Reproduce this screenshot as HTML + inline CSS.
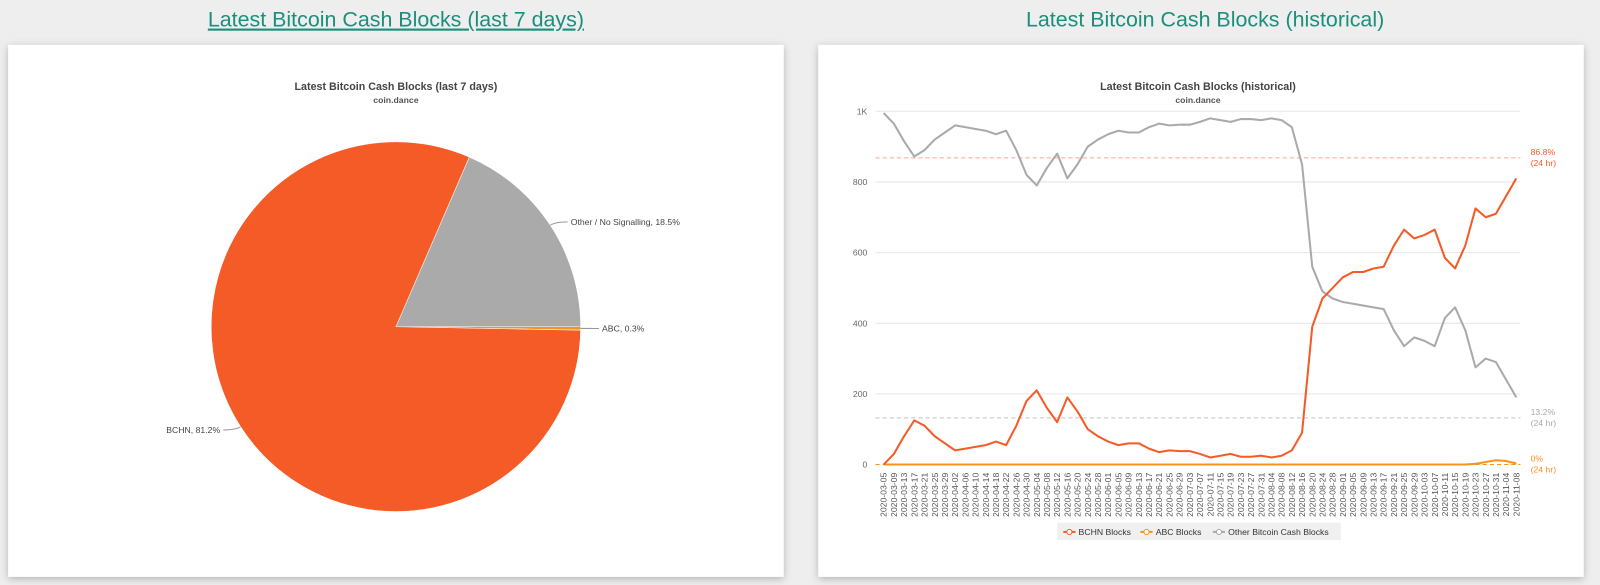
<!DOCTYPE html>
<html><head><meta charset="utf-8"><style>
body{margin:0;background:#eeeeee;font-family:"Liberation Sans",sans-serif;}
</style></head><body>
<svg id="s" width="1600" height="585" viewBox="0 0 1568 573" preserveAspectRatio="none" xmlns="http://www.w3.org/2000/svg" style="display:block">
<defs><filter id="sh" x="-5%" y="-5%" width="110%" height="110%"><feDropShadow dx="0" dy="2" stdDeviation="4" flood-color="#000" flood-opacity="0.25"/></filter></defs>
<rect width="1568" height="573" fill="#eeeeee"/>
<text x="388" y="26" text-anchor="middle" font-size="21" fill="#1b8f7d" text-decoration="underline">Latest Bitcoin Cash Blocks (last 7 days)</text>
<text x="1181" y="26" text-anchor="middle" font-size="21" fill="#1b8f7d">Latest Bitcoin Cash Blocks (historical)</text>
<rect x="8" y="44" width="760" height="521" fill="#fff" filter="url(#sh)"/>
<rect x="802" y="44" width="750" height="521" fill="#fff" filter="url(#sh)"/>
<text x="388" y="88" text-anchor="middle" font-size="10.5" font-weight="bold" fill="#444">Latest Bitcoin Cash Blocks (last 7 days)</text>
<text x="388" y="101" text-anchor="middle" font-size="8.5" font-weight="bold" fill="#555">coin.dance</text>
<text x="1174" y="88" text-anchor="middle" font-size="10.5" font-weight="bold" fill="#444">Latest Bitcoin Cash Blocks (historical)</text>
<text x="1174" y="101" text-anchor="middle" font-size="8.5" font-weight="bold" fill="#555">coin.dance</text>
<g id="pie"></g>
<g id="line"></g>
</svg>
<script>
const NS="http://www.w3.org/2000/svg";
function mk(t,a,p){const e=document.createElementNS(NS,t);for(const k in a)e.setAttribute(k,a[k]);p.appendChild(e);return e;}
// ---- pie data ----
const pieNames=["Other / No Signalling","ABC","BCHN"];
const pieValues=[18.5,0.3,81.2];
const pieColors=["#aaaaaa","#f7941d","#f45b27"];
const pg=document.getElementById('pie');
const cx=388,cy=320,r=181;
let ang=-pieValues[0]/100*2*Math.PI;
pieValues.forEach((v,i)=>{
  const a0=ang,a1=ang+v/100*2*Math.PI;ang=a1;
  const x0=cx+r*Math.cos(a0),y0=cy+r*Math.sin(a0),x1=cx+r*Math.cos(a1),y1=cy+r*Math.sin(a1);
  const p=mk('path',{d:`M${cx},${cy}L${x0},${y0}A${r},${r} 0 ${a1-a0>Math.PI?1:0} 1 ${x1},${y1}Z`,fill:pieColors[i],stroke:'#fff','stroke-width':0.5},pg);
  
  
  const m=(a0+a1)/2,ex=cx+(r+6)*Math.cos(m),ey=cy+(r+6)*Math.sin(m);
  const right=Math.cos(m)>=0;const lx=ex+(right?12:-12);
  mk('path',{d:`M${cx+r*Math.cos(m)},${cy+r*Math.sin(m)}Q${ex},${ey} ${lx},${ey}`,fill:'none',stroke:'#999','stroke-width':1},pg);
  const t=mk('text',{x:lx+(right?3:-3),y:ey+3,'font-size':8.5,fill:'#444','text-anchor':right?'start':'end'},pg);
  t.textContent=pieNames[i]+', '+v+'%';
  
  
});
// ---- line data ----
const dates=[];for(let d=new Date(Date.UTC(2020,2,5));d<=new Date(Date.UTC(2020,10,8));d.setUTCDate(d.getUTCDate()+4))dates.push(d.toISOString().slice(0,10));
const bchn=[0,30,80,125,110,80,60,40,45,50,55,65,55,110,180,210,160,120,190,150,100,80,65,55,60,60,45,35,40,38,38,30,20,25,30,22,22,25,20,25,40,90,390,470,500,530,545,545,555,560,620,665,640,650,665,585,555,620,725,700,710,760,810];
const abc=[0,0,0,0,0,0,0,0,0,0,0,0,0,0,0,0,0,0,0,0,0,0,0,0,0,0,0,0,0,0,0,0,0,0,0,0,0,0,0,0,0,0,0,0,0,0,0,0,0,0,0,0,0,0,0,0,0,0,2,7,12,10,3];
const other=[995,965,915,872,890,920,940,960,955,950,945,935,945,890,820,790,840,880,810,850,900,920,935,945,940,940,955,965,960,962,962,970,980,975,970,978,978,975,980,975,955,850,560,490,470,460,455,450,445,440,380,335,360,350,335,415,445,380,275,300,290,240,190];
const yTicks=[0,200,400,600,800,1000];
const yTickLabels=["0","200","400","600","800","1K"];
const refValues=[868,132,0];
const refLabels=["86.8%","13.2%","0%"];
const refColors=["#f7a58d","#c4c4c4","#f7941d"];
const seriesNames=["BCHN Blocks","ABC Blocks","Other Bitcoin Cash Blocks"];
const seriesColors=["#f45b27","#f7941d","#aaaaaa"];
const lg=document.getElementById('line');
const X0=866,X1=1486,Y0=455,Y1=109;
const xs=i=>X0+(X1-X0)*i/(dates.length-1);
const ys=v=>Y0-(Y0-Y1)*v/1000;
yTicks.forEach((v,i)=>{
  if(v>0){const g=mk('line',{x1:858,x2:1490,y1:ys(v),y2:ys(v),stroke:'#e6e6e6'},lg);}
  const t=mk('text',{x:850,y:ys(v)+3,'text-anchor':'end','font-size':8.5,fill:'#666'},lg);t.textContent=yTickLabels[i];
  
});
refValues.forEach((v,i)=>{
  const l=mk('line',{x1:858,x2:1490,y1:ys(v),y2:ys(v),stroke:refColors[i],'stroke-dasharray':'4,3','stroke-width':1},lg);
  
  const c=i==0?'#f45b27':(i==1?'#aaaaaa':'#f7941d');
  const t=mk('text',{x:1500,y:ys(v)-3,'font-size':8.5,fill:c},lg);t.textContent=refLabels[i];
  
  const t2=mk('text',{x:1500,y:ys(v)+8,'font-size':8.5,fill:c},lg);t2.textContent='(24 hr)';
  
});
dates.forEach((d,i)=>{
  const t=mk('text',{x:0,y:0,'font-size':8.5,fill:'#555','text-anchor':'end',transform:`translate(${xs(i)+3},${Y0+8}) rotate(-90)`},lg);
  t.textContent=d;
});
[other,abc,bchn].forEach((arr,k)=>{
  const idx=[2,1,0][k];
  const p=mk('path',{d:arr.map((v,i)=>(i?'L':'M')+xs(i)+','+ys(v)).join(''),fill:'none',stroke:seriesColors[idx],'stroke-width':2,'stroke-linejoin':'round'},lg);
  
  
});
const lb=mk('rect',{x:1036,y:512,width:278,height:17,fill:'#f0f0f0'},lg);

let lx=1042;
seriesNames.forEach((n,i)=>{
  const g=mk('g',{},lg);
  mk('line',{x1:lx,x2:lx+12,y1:521,y2:521,stroke:seriesColors[i],'stroke-width':2},g);
  mk('circle',{cx:lx+6,cy:521,r:2.5,fill:'#fff',stroke:seriesColors[i]},g);
  const t=mk('text',{x:lx+15,y:524,'font-size':8.5,fill:'#333'},g);t.textContent=n;
  lx+=15+n.length*4.6+10;
});
</script>
</body></html>
